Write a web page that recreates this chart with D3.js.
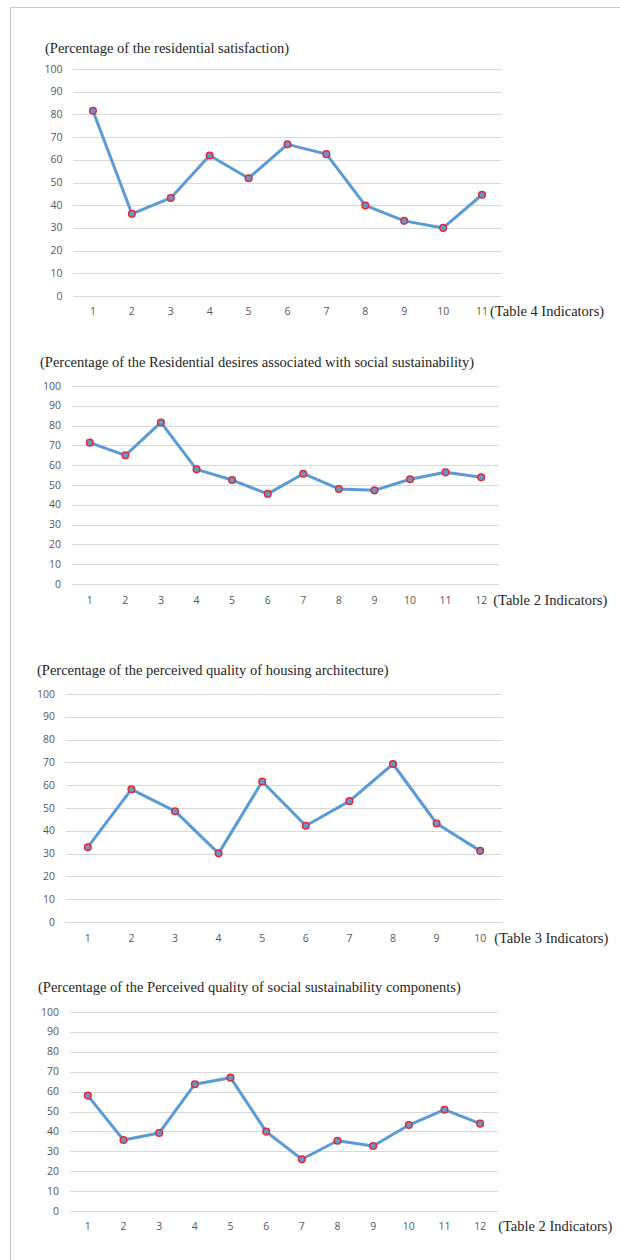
<!DOCTYPE html>
<html>
<head>
<meta charset="utf-8">
<script src="https://cdn.jsdelivr.net/npm/d3@7"></script>
<style>
	body { margin: 0; background: #fff; }
	.tick-lab { font-family: "Open Sans", "Liberation Sans", sans-serif; font-size: 10.5px; fill: #595959; }
	.ttl { font-family: "Liberation Serif", "DejaVu Serif", serif; font-size: 14.5px; fill: #262626; }
</style>
</head>
<body>
<div id="fig"></div>
<script>
// values (percent)
var satisfaction = [81.6, 36.2, 43.2, 61.9, 51.9, 66.8, 62.5, 39.9, 33.1, 30.0, 44.6];
var desires = [71.4, 65.0, 81.6, 57.9, 52.5, 45.5, 55.7, 48.0, 47.3, 52.9, 56.4, 53.9];
var architecture = [32.8, 58.2, 48.6, 30.1, 61.6, 42.2, 53.0, 69.3, 43.2, 31.2];
var components = [58.0, 35.7, 39.2, 63.7, 67.0, 39.9, 26.0, 35.3, 32.7, 43.2, 50.9, 43.9];

var titles = [
	"(Percentage of the residential satisfaction)",
	"(Percentage of the Residential desires associated with social sustainability)",
	"(Percentage of the perceived quality of housing architecture)",
	"(Percentage of the Perceived quality of social sustainability components)"
];
var suffixes = ["(Table 4 Indicators)", "(Table 2 Indicators)", "(Table 3 Indicators)", "(Table 2 Indicators)"];
var yTicks = [0, 10, 20, 30, 40, 50, 60, 70, 80, 90, 100];

var svg = d3.select("#fig").append("svg")
	.attr("width", 620)
	.attr("height", 1260);

// frame of the figure
svg.append("line").attr("x1", 10.5).attr("x2", 620).attr("y1", 7.5).attr("y2", 7.5)
	.attr("stroke", "#c8c8c8");
svg.append("line").attr("x1", 10.5).attr("x2", 10.5).attr("y1", 7.5).attr("y2", 1260)
	.attr("stroke", "#c8c8c8");

// layout of each panel
var panels = [
	{data: satisfaction, tx: 45, ty: 53, x0: 73.5, x1: 501.5, top: 69, bot: 296, lab: 315, gap: 8},
	{data: desires, tx: 40, ty: 367, x0: 72, x1: 499, top: 386, bot: 584, lab: 604, gap: 12},
	{data: architecture, tx: 37, ty: 675, x0: 66, x1: 502, top: 694, bot: 922, lab: 942, gap: 14},
	{data: components, tx: 38, ty: 992, x0: 70, x1: 498, top: 1012, bot: 1211, lab: 1230, gap: 18}
];

panels.forEach(function(p, k) {
	var cats = d3.range(1, p.data.length + 1);
	var x = d3.scalePoint().domain(cats).range([p.x0, p.x1]).padding(0.5);
	var y = d3.scaleLinear().domain([0, 100]).range([p.bot, p.top]);
	var g = svg.append("g");

	g.append("text").attr("class", "ttl")
		.attr("x", p.tx).attr("y", p.ty)
		.text(titles[k]);

	// gridlines + y labels
	g.selectAll(".grid").data(yTicks).enter().append("line")
		.attr("x1", p.x0).attr("x2", p.x1)
		.attr("y1", function(d) { return Math.round(y(d)) + 0.5; })
		.attr("y2", function(d) { return Math.round(y(d)) + 0.5; })
		.attr("stroke", "#d9d9d9");
	g.selectAll(".ylab").data(yTicks).enter().append("text")
		.attr("class", "tick-lab")
		.attr("text-anchor", "end")
		.attr("x", p.x0 - 11)
		.attr("y", function(d) { return y(d) + 3.5; })
		.text(function(d) { return d; });

	// x labels
	g.selectAll(".xlab").data(cats).enter().append("text")
		.attr("class", "tick-lab")
		.attr("text-anchor", "middle")
		.attr("x", function(d) { return x(d); })
		.attr("y", p.lab)
		.text(function(d) { return d; });

	var last = cats[cats.length - 1];
	g.append("text").attr("class", "ttl")
		.attr("x", x(last) + p.gap).attr("y", p.lab + 1)
		.text(suffixes[k]);

	var line = d3.line()
		.x(function(d, i) { return x(cats[i]); })
		.y(function(d) { return y(d); });

	g.append("path").datum(p.data)
		.attr("d", line)
		.attr("fill", "none")
		.attr("stroke", "#5b9bd5")
		.attr("stroke-width", 3)
		.attr("stroke-linejoin", "round");

	g.selectAll(".dot").data(p.data).enter().append("circle")
		.attr("cx", function(d, i) { return x(cats[i]); })
		.attr("cy", function(d) { return y(d); })
		.attr("r", 3.3)
		.attr("fill", "#5b9bd5")
		.attr("stroke", "#e8262f")
		.attr("stroke-width", 1.5);
});
</script>
</body>
</html>
